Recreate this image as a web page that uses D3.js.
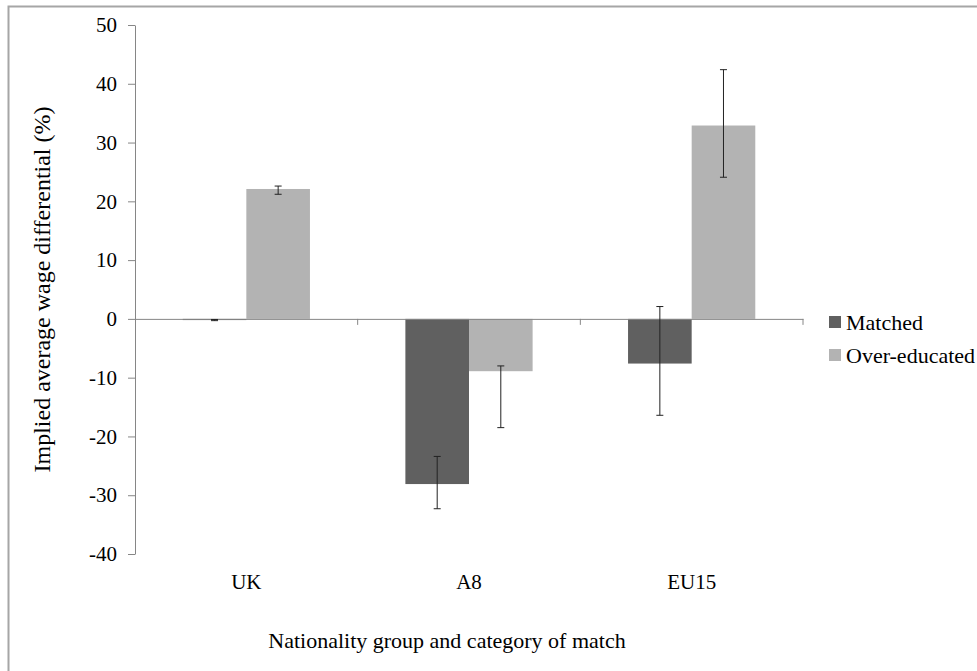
<!DOCTYPE html>
<html>
<head>
<meta charset="utf-8">
<script src="https://cdn.jsdelivr.net/npm/d3@7"></script>
<style>
  body { margin: 0; background: #fff; }
</style>
</head>
<body>
<div id="chart"></div>
<script>
// data
var categories = ["UK", "A8", "EU15"];
var seriesNames = ["Matched", "Over-educated"];
var matched = [-0.2, -28.1, -7.6];
var overEducated = [22.1, -8.9, 32.9];
var matchedLow = [-0.3, -32.3, -16.4];
var matchedHigh = [-0.1, -23.4, 2.1];
var overLow = [21.2, -18.5, 24.1];
var overHigh = [22.6, -8.0, 42.4];
var yTicks = [-40, -30, -20, -10, 0, 10, 20, 30, 40, 50];

var svgWidth = 977, svgHeight = 671;
var margin = {top: 25, left: 135, right: 174, bottom: 117};
var colors = {"Matched": "#606060", "Over-educated": "#b3b3b3"};
var serif = "'Liberation Serif', 'Times New Roman', Times, serif";

var svg = d3.select("#chart").append("svg")
  .attr("width", svgWidth)
  .attr("height", svgHeight);

// outer chart border (only top and left show in the crop)
svg.append("path")
  .attr("d", "M8.5," + svgHeight + "V6.5H" + svgWidth)
  .attr("fill", "none")
  .attr("stroke", "#a6a6a6")
  .attr("stroke-width", 2);

var y = d3.scaleLinear().domain([-40, 50]).range([svgHeight - margin.bottom, margin.top]);
var x = d3.scaleBand().domain(categories).range([margin.left, svgWidth - margin.right]);
var bw = x.bandwidth();
var gap = bw * 1.5 / 3.5;
var x1 = d3.scaleBand().domain(seriesNames).range([gap / 2, bw - gap / 2]);

var rows = [];
categories.forEach(function(c, i) {
  rows.push({cat: c, s: "Matched", v: matched[i], lo: matchedLow[i], hi: matchedHigh[i]});
  rows.push({cat: c, s: "Over-educated", v: overEducated[i], lo: overLow[i], hi: overHigh[i]});
});

// bars
svg.append("g").selectAll("rect")
  .data(rows)
  .enter().append("rect")
  .attr("x", function(d) { return x(d.cat) + x1(d.s); })
  .attr("y", function(d) { return y(Math.max(0, d.v)); })
  .attr("width", x1.bandwidth())
  .attr("height", function(d) { return Math.abs(y(d.v) - y(0)); })
  .attr("fill", function(d) { return colors[d.s]; });

// y axis
var yAxis = svg.append("g")
  .attr("transform", "translate(" + margin.left + ",0)")
  .call(d3.axisLeft(y).tickValues(yTicks).tickFormat(function(d) { return String(d); })
    .tickSize(7).tickSizeOuter(0).tickPadding(11));
yAxis.attr("font-family", serif).attr("font-size", 21);
yAxis.selectAll("line, path").attr("stroke", "#868686");

// x axis along zero line
var xAxis = svg.append("g")
  .attr("transform", "translate(0," + y(0) + ")")
  .call(d3.axisBottom(x).tickSize(0).tickFormat(""));
xAxis.select(".domain").attr("stroke", "#868686");
svg.append("g").selectAll("line")
  .data(categories)
  .enter().append("line")
  .attr("x1", function(d) { return x(d) + bw; })
  .attr("x2", function(d) { return x(d) + bw; })
  .attr("y1", y(0))
  .attr("y2", y(0) + 6)
  .attr("stroke", "#868686");

// category labels
var xLabels = svg.append("g")
  .attr("transform", "translate(0," + (y(-40) + 20) + ")")
  .call(d3.axisBottom(x).tickSize(0).tickPadding(0));
xLabels.select(".domain").remove();
xLabels.attr("font-family", serif).attr("font-size", 21);

// error bars
var eb = svg.append("g").selectAll("g")
  .data(rows)
  .enter().append("g")
  .attr("transform", function(d) { return "translate(" + (x(d.cat) + x1(d.s) + x1.bandwidth() / 2) + ",0)"; });
eb.append("line")
  .attr("y1", function(d) { return y(d.lo); })
  .attr("y2", function(d) { return y(d.hi); })
  .attr("stroke", "#222");
eb.append("line")
  .attr("x1", -3.5).attr("x2", 3.5)
  .attr("y1", function(d) { return y(d.lo); })
  .attr("y2", function(d) { return y(d.lo); })
  .attr("stroke", "#222");
eb.append("line")
  .attr("x1", -3.5).attr("x2", 3.5)
  .attr("y1", function(d) { return y(d.hi); })
  .attr("y2", function(d) { return y(d.hi); })
  .attr("stroke", "#222");

// axis titles
svg.append("text")
  .attr("transform", "translate(50," + ((y(50) + y(-40)) / 2) + ") rotate(-90)")
  .attr("text-anchor", "middle")
  .attr("font-family", serif)
  .attr("font-size", 24)
  .text("Implied average wage differential (%)");

svg.append("text")
  .attr("x", 447)
  .attr("y", 648)
  .attr("text-anchor", "middle")
  .attr("font-family", serif)
  .attr("font-size", 22)
  .text("Nationality group and category of match");

// legend
var legend = svg.append("g").selectAll("g")
  .data(seriesNames)
  .enter().append("g")
  .attr("transform", function(d, i) { return "translate(829," + (316 + i * 33) + ")"; });
legend.append("rect")
  .attr("width", 12).attr("height", 12)
  .attr("fill", function(d) { return colors[d]; });
legend.append("text")
  .attr("x", 17).attr("y", 14)
  .attr("font-family", serif)
  .attr("font-size", 22)
  .text(function(d) { return d; });
</script>
</body>
</html>
